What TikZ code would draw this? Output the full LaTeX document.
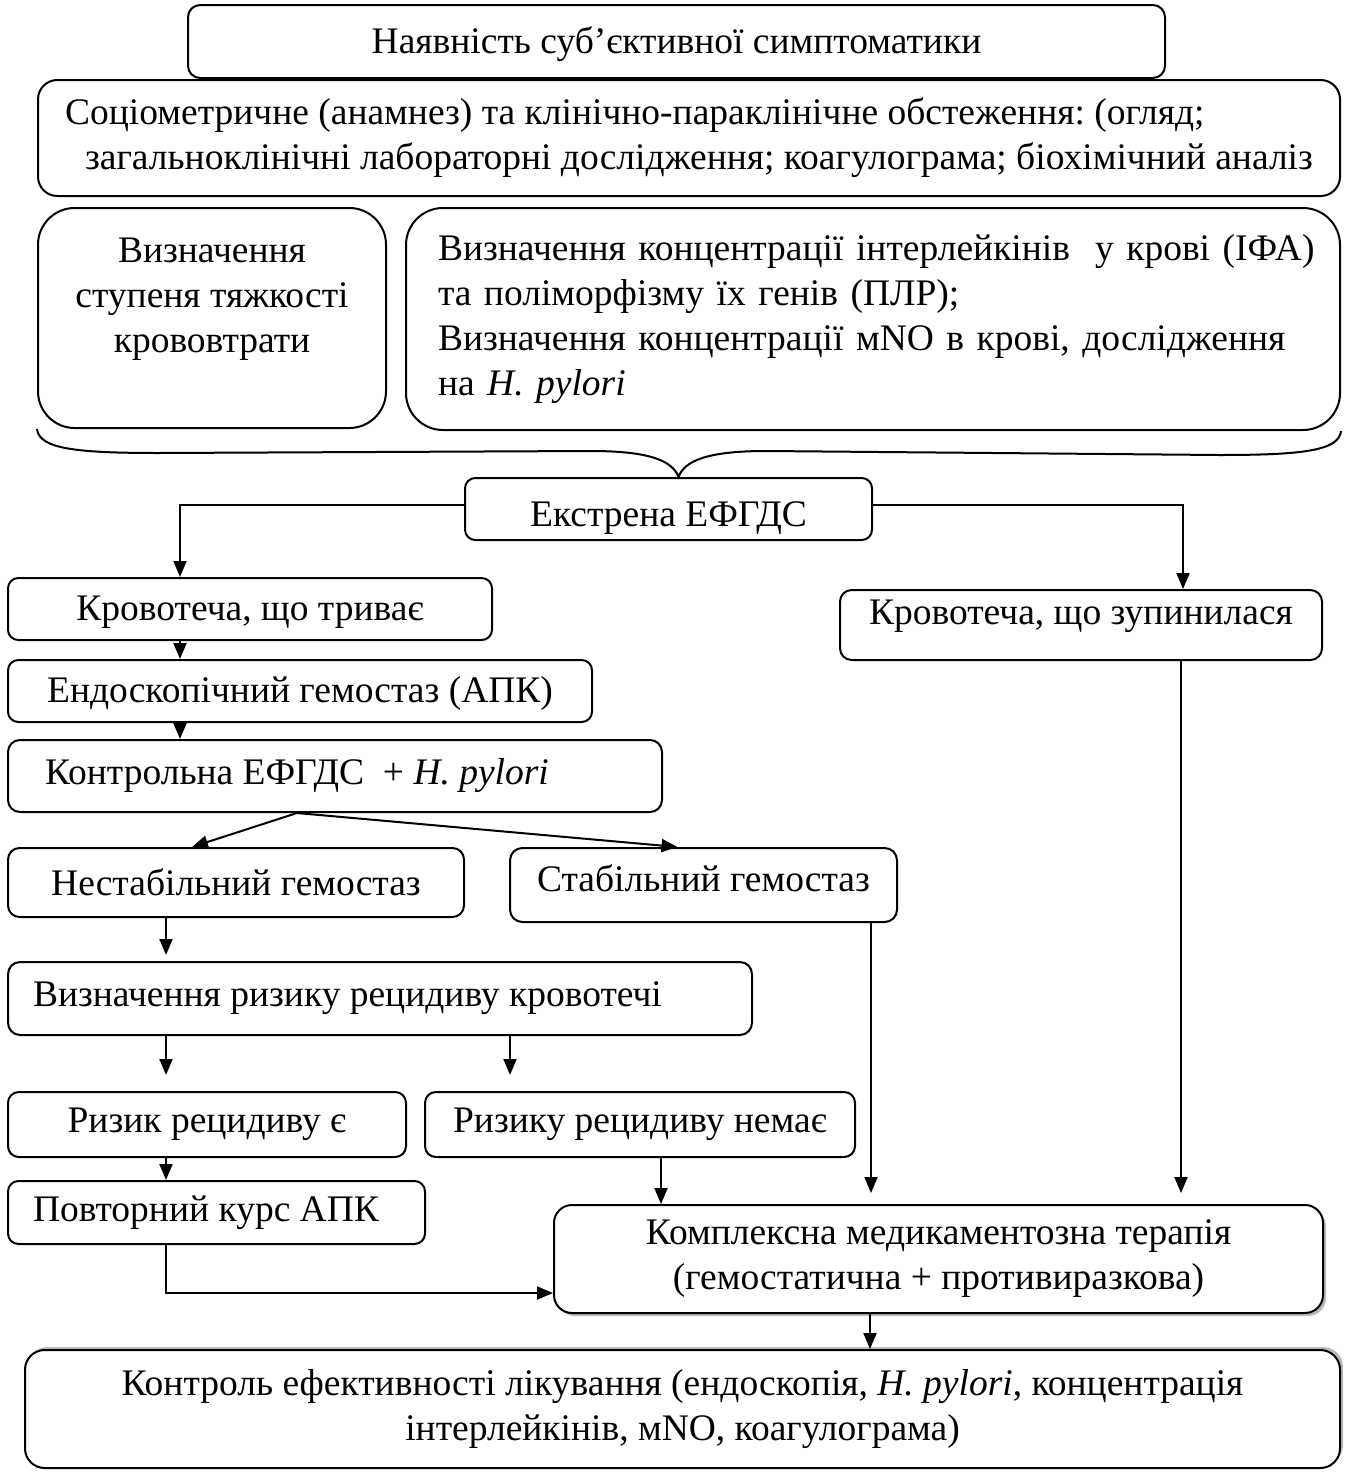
\documentclass[tikz,border=0pt]{standalone}
\usepackage{fontspec}
\setmainfont{Liberation Serif}
\usetikzlibrary{arrows.meta,shadows,calc}
\newcommand\mybox[7][]{%
  \pgfmathsetmacro\bxcx{(#3+#5)/2}%
  \pgfmathsetmacro\bxcy{(#4+#6)/2}%
  \pgfmathsetmacro\bxw{(#5-#3)/2}%
  \pgfmathsetmacro\bxh{(#6-#4)/2}%
  \pgfmathsetmacro\bxr{min(#5-#3,#6-#4)/12}%
  \node[box, minimum width=\bxw pt, minimum height=\bxh pt, rounded corners=\bxr pt, #1] (#2) at (\bxcx,\bxcy) {#7};}
\begin{document}
\begin{tikzpicture}[x=0.5pt,y=-0.5pt,
  box/.style={draw, line width=1pt, inner sep=0pt, fill=white,
    font=\fontsize{18.75pt}{22.5pt}\selectfont\frenchspacing},
  arr/.style={line width=1pt, -{Triangle[length=8pt,width=6.5pt]}},
  ln/.style={line width=1pt},
  shdr/.style={drop shadow={shadow xshift=1.5pt, shadow yshift=-1.5pt, fill=gray!55, opacity=1}},
  shdu/.style={drop shadow={shadow xshift=1.5pt, shadow yshift=1.5pt, fill=gray!55, opacity=1}}]
\useasboundingbox (0,0) rectangle (1346,1472);

% boxes
\mybox[text height=16pt]{top}{188}{5}{1165}{78}{Наявність суб’єктивної симптоматики}
\mybox[align=left]{soc}{38}{80}{1340}{196}{Соціометричне (анамнез) та клінічно-параклінічне обстеження: (огляд;\\\hspace*{10pt}загальноклінічні лабораторні дослідження; коагулограма; біохімічний аналіз}
\mybox[align=center]{vst}{38}{208}{386}{428}{Визначення\\ступеня тяжкості\\крововтрати\\\mbox{}}
\mybox[align=left, text width=435pt]{vk}{406}{208}{1340}{430}{\mbox{Визначення концентрації інтерлейкінів \ у крові (ІФА)}\\та поліморфізму їх генів (ПЛР);\\\mbox{Визначення концентрації мNO в крові, дослідження}\\на \textit{H. pylori}}
\mybox[text height=21pt, text depth=4pt]{ek}{465}{478}{872}{540}{Екстрена ЕФГДС}
\mybox[text height=15pt]{kt}{8}{578}{492}{640}{Кровотеча, що триває}
\mybox[text depth=13pt]{kz}{840}{590}{1322}{660}{Кровотеча, що зупинилася}
\mybox[text height=15pt]{eg}{8}{660}{592}{722}{Ендоскопічний гемостаз (АПК)}
\mybox{kc}{8}{740}{662}{812}{\makebox[290pt][l]{Контрольна ЕФГДС \ + \textit{H. pylori}}}
\mybox{ns}{8}{848}{464}{917}{Нестабільний гемостаз}
\mybox[text depth=7pt]{st}{510}{848}{897}{922}{Стабільний гемостаз}
\mybox{vr}{8}{962}{752}{1035}{\makebox[347pt][l]{Визначення ризику рецидиву кровотечі}}
\mybox{re}{8}{1092}{406}{1157}{Ризик рецидиву є}
\mybox{rn}{425}{1092}{855}{1157}{Ризику рецидиву немає}
\mybox{pk}{8}{1181}{425}{1244}{\makebox[183.5pt][l]{Повторний курс АПК}}
\mybox[align=center, shdr]{km}{554}{1205}{1323}{1313}{Комплексна медикаментозна терапія\\(гемостатична + противиразкова)}
\mybox[align=center, shdu]{kon}{25}{1350}{1340}{1468}{Контроль ефективності лікування (ендоскопія, \textit{H. pylori}, концентрація\\інтерлейкінів, мNO, коагулограма)}

% brace
\coordinate (bL) at (vst.south west);
\coordinate (bR) at (vk.south east);
\coordinate (bT) at ([xshift=5pt]ek.north);
\draw[ln] (bL) .. controls ($(bL)+(2,20)$) and ($(bL)+(40,24)$) .. ($(bL)+(122,24)$)
  -- ($(bT)+(-88,-26)$) .. controls ($(bT)+(-28,-26)$) and ($(bT)+(-6,-16)$) .. (bT)
  .. controls ($(bT)+(6,-16)$) and ($(bT)+(28,-26)$) .. ($(bT)+(88,-26)$)
  -- ($(bR)+(-122,24)$) .. controls ($(bR)+(-40,24)$) and ($(bR)+(-2,20)$) .. (bR);

% connectors
\draw[arr] ([yshift=2pt]ek.west) -| ([xshift=-35pt]kt.north);
\draw[arr] ([yshift=2pt]ek.east) -| ([xshift=51pt]kz.north);
\coordinate (a1) at ([xshift=-35pt]kt.south);
\draw[arr] (a1) -- (a1 |- eg.north);
\coordinate (a2) at ([xshift=-60pt]eg.south);
\draw[arr] (a2) -- (a2 |- kc.north);
\coordinate (a3) at ([xshift=-19pt]kc.south);
\draw[arr] (a3) -- ([xshift=-22pt]ns.north);
\draw[arr] (a3) -- ([xshift=-13pt]st.north);
\coordinate (a4) at ([xshift=-35pt]ns.south);
\draw[arr, shorten >=3pt] (a4) -- (a4 |- vr.north);
\coordinate (a5) at ([xshift=-107pt]vr.south);
\draw[arr, shorten >=8pt] (a5) -- (a5 |- re.north);
\coordinate (a6) at ([xshift=65pt]vr.south);
\draw[arr, shorten >=8pt] (a6) -- (a6 |- rn.north);
\coordinate (a7) at ([xshift=-20.5pt]re.south);
\draw[arr] (a7) -- (a7 |- pk.north);
\coordinate (a8) at ([xshift=-25.25pt]pk.south);
\draw[arr] (a8) |- ([yshift=-17pt]km.west);
\coordinate (a9) at ([xshift=10.5pt]rn.south);
\draw[arr] (a9) -- (a9 |- km.north);
\coordinate (a10) at ([xshift=83.75pt]st.south);
\draw[arr, shorten >=5.5pt] (a10) -- (a10 |- km.north);
\coordinate (a11) at ([xshift=50pt]kz.south);
\draw[arr, shorten >=5.5pt] (a11) -- (a11 |- km.north);
\coordinate (a12) at ([xshift=-34.25pt]km.south);
\draw[arr] (a12) -- (a12 |- kon.north);
\end{tikzpicture}
\end{document}
